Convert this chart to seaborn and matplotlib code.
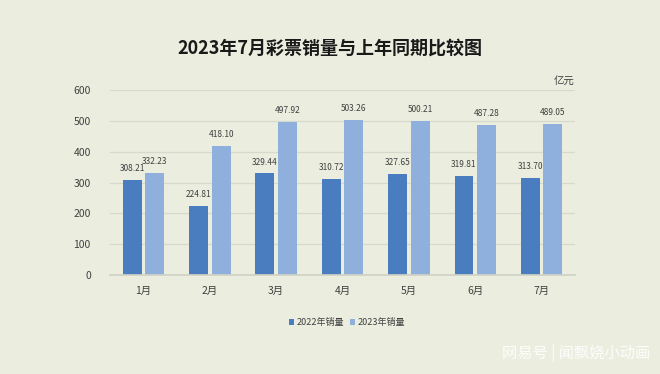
import pandas as pd
import matplotlib.pyplot as plt
import seaborn as sns

# data (unit: 亿元)
months = ['1月', '2月', '3月', '4月', '5月', '6月', '7月']
sales_2022 = [308.21, 224.81, 329.44, 310.72, 327.65, 319.81, 313.70]
sales_2023 = [332.23, 418.10, 497.92, 503.26, 500.21, 487.28, 489.05]
series_names = ['2022年销量', '2023年销量']
yticks = [0, 100, 200, 300, 400, 500, 600]

df = pd.DataFrame({
    'month': months * 2,
    'sales': sales_2022 + sales_2023,
    'year': [series_names[0]] * len(months) + [series_names[1]] * len(months),
})

bg = '#ebeedf'
dark_blue = '#4a7cc0'
light_blue = '#8fb0dc'

sns.set_theme(style='white')
plt.rcParams['font.family'] = ['Noto Sans CJK SC', 'DejaVu Sans']

fig = plt.figure(figsize=(6.6, 3.74), dpi=100, facecolor=bg)
ax = fig.add_axes([0.167, 0.265, 0.704, 0.494], facecolor=bg)

sns.barplot(data=df, x='month', y='sales', hue='year', ax=ax,
            palette=[dark_blue, light_blue], width=0.68, gap=0.16,
            saturation=1, linewidth=0, legend=True)

for container in ax.containers:
    ax.bar_label(container, fmt='%.2f', padding=5, fontsize=6, color='#404040')

ax.set_ylim(0, 600)
ax.set_yticks(yticks)
ax.set_xlim(-0.5, len(months) - 0.5)
ax.grid(axis='y', color='#d6d9cb', linewidth=0.9)
ax.set_axisbelow(True)
for side in ['top', 'right', 'left']:
    ax.spines[side].set_visible(False)
ax.spines['bottom'].set_color('#cfd2c4')
ax.tick_params(axis='both', length=0, labelsize=7.5, colors='#404040')
ax.tick_params(axis='x', pad=8)
ax.tick_params(axis='y', pad=14)
ax.set_xlabel('')
ax.set_ylabel('')

ax.legend(loc='upper center', bbox_to_anchor=(0.51, -0.19), ncol=2, frameon=False,
          fontsize=6.5, handlelength=0.6, handleheight=0.6, handletextpad=0.3,
          columnspacing=0.6, labelcolor='#404040')

fig.text(0.5, 0.872, '2023年7月彩票销量与上年同期比较图', ha='center', va='center',
         fontsize=13, fontweight='bold', color='#1a1a1a')
fig.text(0.855, 0.78, '亿元', ha='center', va='center', fontsize=7.5, color='#404040')

# watermark
fig.text(0.985, 0.055, '网易号 | 闻飘娆小动画', ha='right', va='center',
         fontsize=11, color='#ffffff', alpha=0.9)

fig.savefig('out.png', dpi=100, facecolor=bg)
